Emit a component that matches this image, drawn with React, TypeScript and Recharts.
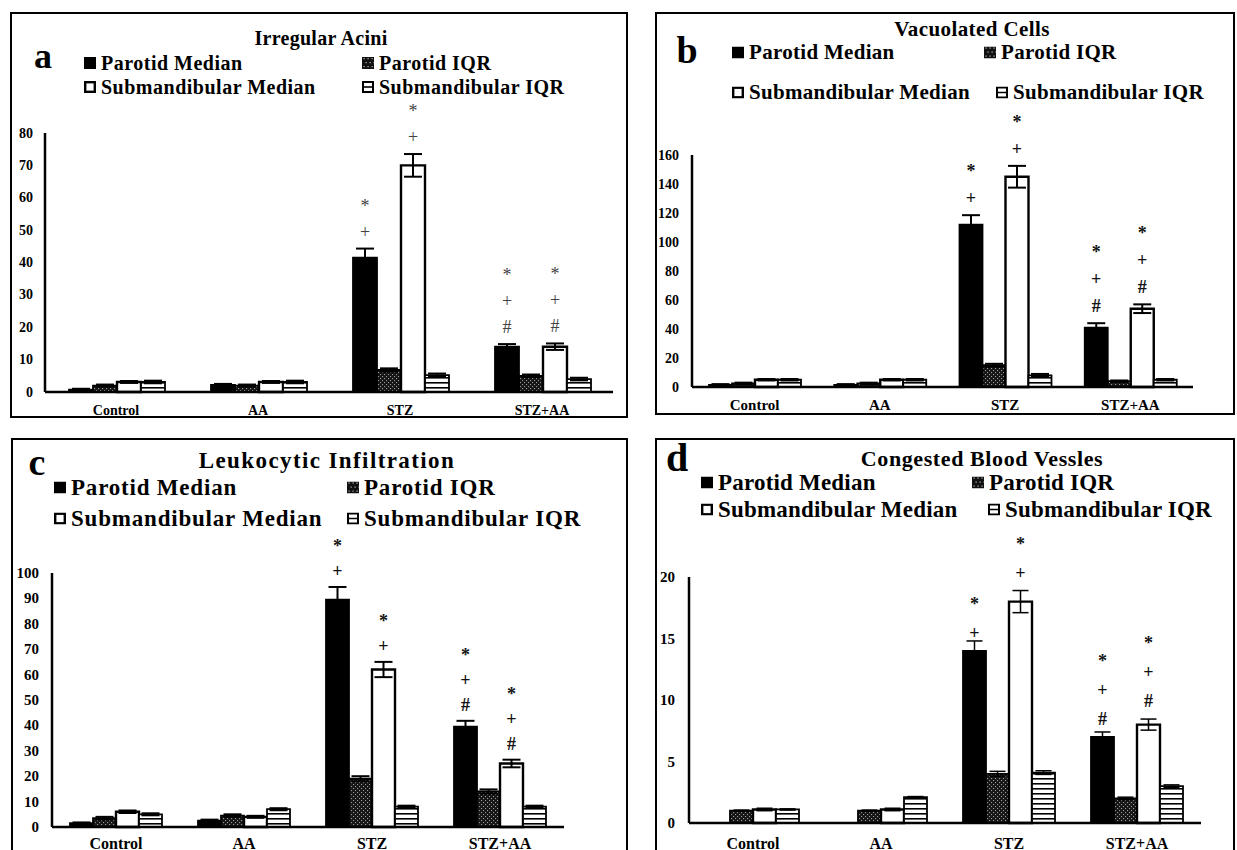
import React from 'react';
import { BarChart, Bar, XAxis, YAxis, ErrorBar, LabelList } from 'recharts';

const categories = ['Control', 'AA', 'STZ', 'STZ+AA'];
const seriesNames = ['Parotid Median', 'Parotid IQR', 'Submandibular Median', 'Submandibular IQR'];

// Panel a
const aTitle = 'Irregular Acini';
const aTicks = [0, 10, 20, 30, 40, 50, 60, 70, 80];
const aParotidMedian = [0.7, 2.2, 41.5, 14];
const aParotidMedianErr = [0.3, 0.3, 2.8, 0.8];
const aParotidIQR = [2, 2, 6.8, 5];
const aParotidIQRErr = [0.3, 0.3, 0.5, 0.4];
const aSubMedian = [3.1, 3.1, 70, 14];
const aSubMedianErr = [0.3, 0.3, 3.5, 1];
const aSubIQR = [3.1, 3.1, 5.2, 4];
const aSubIQRErr = [0.4, 0.4, 0.5, 0.4];
const aParotidSig = ['', '', '*+', '*+#'];
const aSubSig = ['', '', '*+', '*+#'];

// Panel b
const bTitle = 'Vacuolated Cells';
const bTicks = [0, 20, 40, 60, 80, 100, 120, 140, 160];
const bParotidMedian = [1.5, 1.5, 112, 41];
const bParotidMedianErr = [0.5, 0.5, 6.5, 3];
const bParotidIQR = [2.5, 2.5, 15, 4];
const bParotidIQRErr = [0.5, 0.5, 1, 0.5];
const bSubMedian = [5, 5, 145, 54];
const bSubMedianErr = [0.5, 0.5, 7.5, 3];
const bSubIQR = [5, 5, 8, 5];
const bSubIQRErr = [0.5, 0.5, 1, 0.5];
const bParotidSig = ['', '', '*+', '*+#'];
const bSubSig = ['', '', '*+', '*+#'];

// Panel c
const cTitle = 'Leukocytic Infiltration';
const cTicks = [0, 10, 20, 30, 40, 50, 60, 70, 80, 90, 100];
const cParotidMedian = [1.5, 2.5, 89.5, 39.5];
const cParotidMedianErr = [0.3, 0.4, 5, 2.3];
const cParotidIQR = [3.5, 4.5, 19, 14];
const cParotidIQRErr = [0.5, 0.5, 1, 0.8];
const cSubMedian = [6, 4, 62, 25];
const cSubMedianErr = [0.5, 0.4, 3, 1.5];
const cSubIQR = [5, 7, 8, 8];
const cSubIQRErr = [0.4, 0.4, 0.4, 0.4];
const cParotidSig = ['', '', '*+', '*+#'];
const cSubSig = ['', '', '*+', '*+#'];

// Panel d
const dTitle = 'Congested Blood Vessles';
const dTicks = [0, 5, 10, 15, 20];
const dParotidMedian = [0, 0, 14, 7];
const dParotidMedianErr = [0, 0, 0.8, 0.4];
const dParotidIQR = [1, 1, 4, 2];
const dParotidIQRErr = [0.05, 0.05, 0.2, 0.1];
const dSubMedian = [1.1, 1.1, 18, 8];
const dSubMedianErr = [0.1, 0.1, 0.9, 0.45];
const dSubIQR = [1.1, 2.1, 4.1, 3];
const dSubIQRErr = [0.05, 0.05, 0.15, 0.1];
const dParotidSig = ['', '', '*+', '*+#'];
const dSubSig = ['', '', '*+', '*+#'];

const FONT = '"Liberation Serif", "Times New Roman", serif';

const panels = [
  {
    id: 'a', letter: 'a', title: aTitle, ticks: aTicks,
    pm: aParotidMedian, pmErr: aParotidMedianErr, piqr: aParotidIQR, piqrErr: aParotidIQRErr,
    sm: aSubMedian, smErr: aSubMedianErr, siqr: aSubIQR, siqrErr: aSubIQRErr,
    pSig: aParotidSig, sSig: aSubSig,
    box: { left: 10, top: 12, right: 628, bottom: 418, openBottom: false },
    axisX: 45, plotRight: 613, yTop: 133, yZero: 392, gap: 24,
    yTickOff: 12, yTickFs: 14, xTickOff: 18, xTickFs: 14,
    letterPos: { x: 43, y: 56, fs: 36 },
    titlePos: { x: 321, y: 38, fs: 20, ls: 0.3 },
    legendFs: 20, legendLs: 0.5,
    legend: [{ x: 84, y: 63 }, { x: 362, y: 63 }, { x: 84, y: 87 }, { x: 362, y: 87 }],
    sigFs: 18, sigOff: 17, sigStep: 26, sigBold: false, sigColor: '#444',
    errW: 9, errS: 2,
  },
  {
    id: 'b', letter: 'b', title: bTitle, ticks: bTicks,
    pm: bParotidMedian, pmErr: bParotidMedianErr, piqr: bParotidIQR, piqrErr: bParotidIQRErr,
    sm: bSubMedian, smErr: bSubMedianErr, siqr: bSubIQR, siqrErr: bSubIQRErr,
    pSig: bParotidSig, sSig: bSubSig,
    box: { left: 655, top: 12, right: 1235, bottom: 415, openBottom: false },
    axisX: 692, plotRight: 1193, yTop: 155, yZero: 387, gap: 17,
    yTickOff: 13, yTickFs: 14, xTickOff: 18, xTickFs: 15,
    letterPos: { x: 687, y: 50, fs: 38 },
    titlePos: { x: 972, y: 29, fs: 21, ls: 0.4 },
    legendFs: 21, legendLs: 0.3,
    legend: [{ x: 732, y: 52 }, { x: 984, y: 52 }, { x: 732, y: 92 }, { x: 996, y: 92 }],
    sigFs: 18, sigOff: 17, sigStep: 27, sigBold: true, sigColor: '#111',
    errW: 9, errS: 2,
  },
  {
    id: 'c', letter: 'c', title: cTitle, ticks: cTicks,
    pm: cParotidMedian, pmErr: cParotidMedianErr, piqr: cParotidIQR, piqrErr: cParotidIQRErr,
    sm: cSubMedian, smErr: cSubMedianErr, siqr: cSubIQR, siqrErr: cSubIQRErr,
    pSig: cParotidSig, sSig: cSubSig,
    box: { left: 11, top: 438, right: 628, bottom: 850, openBottom: true },
    axisX: 52, plotRight: 564, yTop: 573, yZero: 827, gap: 18,
    yTickOff: 13, yTickFs: 15, xTickOff: 16, xTickFs: 16,
    letterPos: { x: 37, y: 462, fs: 38 },
    titlePos: { x: 327, y: 460, fs: 23, ls: 1.4 },
    legendFs: 23, legendLs: 0.8,
    legend: [{ x: 54, y: 487 }, { x: 347, y: 487 }, { x: 54, y: 518 }, { x: 347, y: 518 }],
    sigFs: 18, sigOff: 16, sigStep: 25, sigBold: true, sigColor: '#111',
    errW: 9, errS: 2,
  },
  {
    id: 'd', letter: 'd', title: dTitle, ticks: dTicks,
    pm: dParotidMedian, pmErr: dParotidMedianErr, piqr: dParotidIQR, piqrErr: dParotidIQRErr,
    sm: dSubMedian, smErr: dSubMedianErr, siqr: dSubIQR, siqrErr: dSubIQRErr,
    pSig: dParotidSig, sSig: dSubSig,
    box: { left: 655, top: 438, right: 1235, bottom: 850, openBottom: true },
    axisX: 689, plotRight: 1201, yTop: 577, yZero: 823, gap: 18,
    yTickOff: 14, yTickFs: 15, xTickOff: 20, xTickFs: 16,
    letterPos: { x: 677, y: 458, fs: 40 },
    titlePos: { x: 982, y: 459, fs: 22, ls: 0.6 },
    legendFs: 23, legendLs: 0.2,
    legend: [{ x: 701, y: 482 }, { x: 972, y: 482 }, { x: 701, y: 509 }, { x: 988, y: 509 }],
    sigFs: 18, sigOff: 18, sigStep: 29, sigBold: true, sigColor: '#111',
    errW: 8, errS: 1.5,
  },
];

function Marker({ kind }: { kind: number }) {
  const s = 12;
  if (kind === 0) return <svg width={s} height={s}><rect x={0} y={0} width={s} height={s} fill="#000" /></svg>;
  if (kind === 1)
    return (
      <svg width={s} height={s}>
        <rect x={0} y={0} width={s} height={s} fill="#111" />
        {[1, 5, 9].map((x) => [1, 5, 9].map((y) => <rect key={x + '-' + y} x={x + ((y / 4) % 2) * 2} y={y} width={1.2} height={1.2} fill="#bbb" />))}
      </svg>
    );
  if (kind === 2) return <svg width={s} height={s}><rect x={1.2} y={1.2} width={s - 2.4} height={s - 2.4} fill="#fff" stroke="#000" strokeWidth={2.4} /></svg>;
  return (
    <svg width={s} height={s}>
      <rect x={1} y={1} width={s - 2} height={s - 2} fill="#fff" stroke="#000" strokeWidth={2} />
      <line x1={1} y1={6} x2={s - 1} y2={6} stroke="#000" strokeWidth={1.6} />
    </svg>
  );
}

function Panel({ p }: { p: any }) {
  const w = p.box.right - p.box.left;
  const h = p.box.bottom - p.box.top;
  const marginTop = p.yTop - p.box.top;
  const xAxisH = p.box.bottom - p.yZero;
  const yAxisW = p.axisX - p.box.left;
  const marginRight = p.box.right - p.plotRight;
  const max = p.ticks[p.ticks.length - 1];
  const ppu = (p.yZero - p.yTop) / max;

  const rows = categories.map((c, i) => ({
    cat: c,
    pm: p.pm[i], pmErr: p.pmErr[i],
    piqr: p.piqr[i], piqrErr: p.piqrErr[i],
    sm: p.sm[i], smErr: p.smErr[i],
    siqr: p.siqr[i], siqrErr: p.siqrErr[i],
    pSig: p.pSig[i], sSig: p.sSig[i],
  }));

  const dotsId = 'dots-' + p.id;
  const stripesId = 'stripes-' + p.id;

  const sigContent = (errs: number[]) => (props: any) => {
    const text = props.value;
    if (!text) return null;
    const vb = props.viewBox || {};
    const bx = vb.x ?? props.x;
    const by = vb.y ?? props.y;
    const bw = vb.width ?? props.width;
    const bh = vb.height ?? props.height;
    const top = Math.min(by, by + bh);
    const cx = bx + bw / 2;
    const errTop = top - errs[props.index] * ppu;
    const chars = String(text).split('');
    const n = chars.length;
    return (
      <g>
        {chars.map((ch, i) => (
          <text
            key={i}
            x={cx}
            y={errTop - p.sigOff - (n - 1 - i) * p.sigStep}
            textAnchor="middle"
            dominantBaseline="central"
            fontFamily={FONT}
            fontWeight={p.sigBold ? 'bold' : 'normal'}
            fontSize={p.sigFs}
            fill={p.sigColor}
          >
            {ch}
          </text>
        ))}
      </g>
    );
  };

  const XTick = (props: any) => (
    <text x={props.x} y={props.y + p.xTickOff} textAnchor="middle" dominantBaseline="central" fontFamily={FONT} fontWeight="bold" fontSize={p.xTickFs} fill="#000">
      {props.payload.value}
    </text>
  );
  const YTick = (props: any) => (
    <text x={props.x - p.yTickOff} y={props.y} textAnchor="end" dominantBaseline="central" fontFamily={FONT} fontWeight="bold" fontSize={p.yTickFs} fill="#000">
      {props.payload.value}
    </text>
  );

  const fills = ['#000', `url(#${dotsId})`, '#fff', `url(#${stripesId})`];
  const keys = ['pm', 'piqr', 'sm', 'siqr'];

  return (
    <>
      <div style={{ position: 'absolute', left: p.box.left, top: p.box.top, width: w, height: h }}>
        <BarChart
          width={w}
          height={h}
          data={rows}
          margin={{ top: marginTop, right: marginRight, bottom: 0, left: 0 }}
          barCategoryGap={p.gap}
          barGap={0}
        >
          <defs>
            <pattern id={dotsId} width={4} height={4} patternUnits="userSpaceOnUse">
              <rect x={0} y={0} width={4} height={4} fill="#151515" />
              <rect x={0} y={0} width={1.1} height={1.1} fill="#9a9a9a" />
              <rect x={2} y={2} width={1.1} height={1.1} fill="#9a9a9a" />
            </pattern>
            <pattern id={stripesId} width={6} height={5} patternUnits="userSpaceOnUse">
              <rect x={0} y={0} width={6} height={5} fill="#fff" />
              <rect x={0} y={0} width={6} height={1.6} fill="#000" />
            </pattern>
          </defs>
          <XAxis
            dataKey="cat"
            height={xAxisH}
            axisLine={{ stroke: '#000', strokeWidth: 2.5 }}
            tickLine={false}
            tickSize={0}
            tickMargin={0}
            tick={XTick}
            interval={0}
          />
          <YAxis
            width={yAxisW}
            domain={[0, max]}
            ticks={p.ticks}
            axisLine={{ stroke: '#000', strokeWidth: 2.5 }}
            tickLine={false}
            tickSize={0}
            tickMargin={0}
            tick={YTick}
            interval={0}
          />
          {keys.map((k, si) => (
            <Bar
              key={k}
              dataKey={k}
              name={seriesNames[si]}
              fill={fills[si]}
              stroke="#000"
              strokeWidth={si === 2 ? 2.4 : 1.8}
              isAnimationActive={false}
            >
              <ErrorBar dataKey={k + 'Err'} width={p.errW} strokeWidth={p.errS} stroke="#000" direction="y" />
              {si === 0 && <LabelList dataKey="pSig" content={sigContent(p.pmErr)} />}
              {si === 2 && <LabelList dataKey="sSig" content={sigContent(p.smErr)} />}
            </Bar>
          ))}
        </BarChart>
      </div>
      <div
        style={{
          position: 'absolute',
          left: p.box.left,
          top: p.box.top,
          width: w,
          height: h,
          boxSizing: 'border-box',
          border: '2.5px solid #000',
          borderBottom: p.box.openBottom ? 'none' : '2.5px solid #000',
          pointerEvents: 'none',
        }}
      />
      <div
        style={{
          position: 'absolute', left: p.letterPos.x, top: p.letterPos.y, transform: 'translate(-50%, -50%)',
          fontFamily: FONT, fontWeight: 'bold', fontSize: p.letterPos.fs, lineHeight: 1, color: '#000',
        }}
      >
        {p.letter}
      </div>
      <div
        style={{
          position: 'absolute', left: p.titlePos.x, top: p.titlePos.y, transform: 'translate(-50%, -50%)',
          fontFamily: FONT, fontWeight: 'bold', fontSize: p.titlePos.fs, letterSpacing: p.titlePos.ls,
          lineHeight: 1, whiteSpace: 'nowrap', color: '#000',
        }}
      >
        {p.title}
      </div>
      {p.legend.map((l: any, i: number) => (
        <div
          key={i}
          style={{
            position: 'absolute', left: l.x, top: l.y, transform: 'translateY(-50%)',
            display: 'flex', alignItems: 'center', whiteSpace: 'nowrap',
            fontFamily: FONT, fontWeight: 'bold', fontSize: p.legendFs, letterSpacing: p.legendLs,
            lineHeight: 1, color: '#000',
          }}
        >
          <Marker kind={i} />
          <span style={{ marginLeft: 5 }}>{seriesNames[i]}</span>
        </div>
      ))}
    </>
  );
}

export default function App() {
  return (
    <div style={{ position: 'absolute', left: 0, top: 0, width: 1237, height: 850, overflow: 'hidden', background: '#fff' }}>
      {panels.map((p) => (
        <Panel key={p.id} p={p} />
      ))}
    </div>
  );
}
